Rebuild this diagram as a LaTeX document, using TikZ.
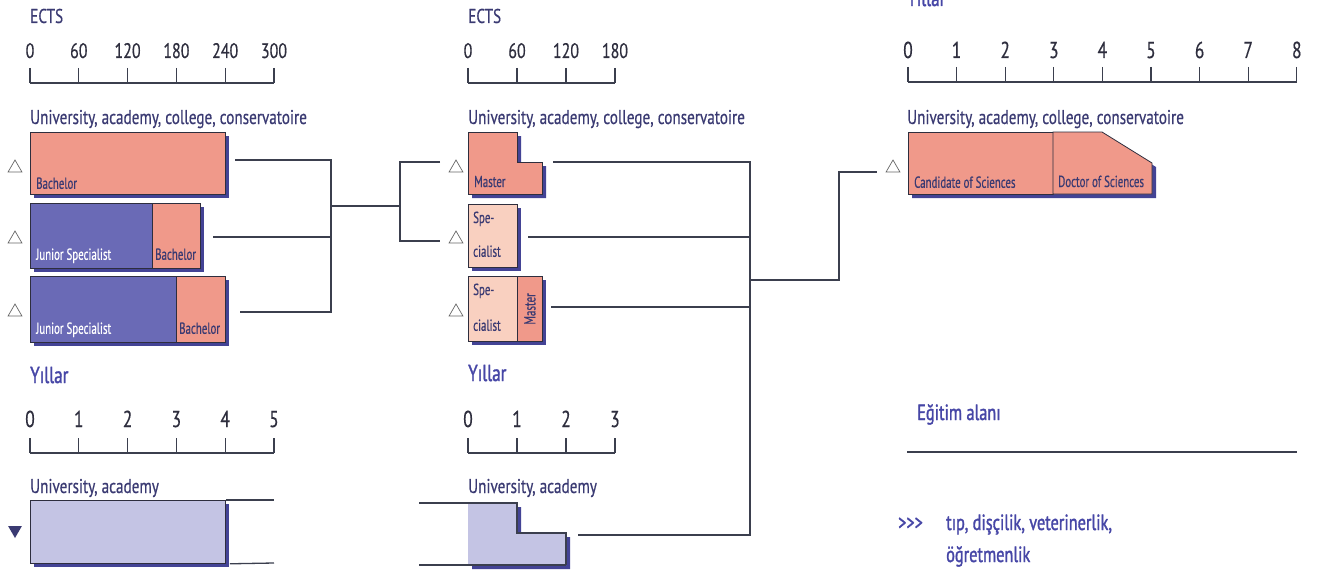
\documentclass[tikz,border=0pt]{standalone}
\usepackage{fontspec}
\setmainfont{PT Sans}[FakeStretch=0.76,FakeBold=0.5]
\newfontfamily\narrowfam{PT Sans}[FakeStretch=0.68,FakeBold=0.5]
\newfontfamily\semifam{PT Sans}[FakeStretch=0.74,FakeBold=1.4]
\usetikzlibrary{shadows,shapes.geometric}
\definecolor{salmon}{HTML}{F0998A}
\definecolor{jblue}{HTML}{6A6AB6}
\definecolor{lpink}{HTML}{F9D0C0}
\definecolor{lav}{HTML}{C4C4E4}
\definecolor{shad}{HTML}{2F2F8A}
\definecolor{navy}{HTML}{3A3A72}
\definecolor{tblue}{HTML}{4646A6}
\definecolor{linec}{HTML}{3B3F4E}
\definecolor{edgec}{HTML}{2E2E3E}
\newcommand\hfnt{\fontsize{20}{22}\selectfont}
\newcommand\nfnt{\fontsize{21}{23}\selectfont}
\newcommand\yfnt{\fontsize{23}{25}\selectfont}
\newcommand\ylfnt{\semifam\fontsize{23}{25}\selectfont}
\newcommand\bfnt{\narrowfam\fontsize{16}{18}\selectfont}
\newcommand\tfnt{\semifam\fontsize{22}{24}\selectfont}
\begin{document}
\begin{tikzpicture}[x=1pt,y=-1pt,
  conn/.style={draw=linec, line width=1.6pt},
  axisln/.style={draw=linec, line width=1.3pt},
  hd/.style={anchor=base west, inner sep=0pt, text=navy, font=\hfnt},
  yl/.style={anchor=base west, inner sep=0pt, text=tblue, font=\ylfnt},
  num/.style={anchor=base, inner sep=0pt, text=edgec, font=\nfnt},
  ynum/.style={anchor=base, inner sep=0pt, text=edgec, font=\yfnt},
  bx/.style={draw=edgec, line width=0.8pt, inner sep=0pt, anchor=north west,
    drop shadow={shadow xshift=4pt, shadow yshift=-4pt, fill=shad, opacity=0.9}},
  bl/.style={anchor=base west, inner sep=0pt, font=\bfnt},
  tri/.style={regular polygon, regular polygon sides=3, draw=gray!80!black, line width=0.7pt, minimum size=16pt, inner sep=0pt},
  ftri/.style={regular polygon, regular polygon sides=3, shape border rotate=180, fill=navy, minimum size=16pt, inner sep=0pt},
  shd/.style={fill=shad, opacity=0.9, shift={(4,4)}},
  edgeln/.style={draw=edgec, line width=0.8pt},
  bt/.style={anchor=base west, inner sep=0pt, font=\tfnt, text=tblue},
]
\useasboundingbox (0,0) rectangle (1323,578);

% ================= LEFT PANEL =================
\node[hd] (lects) at (30,23) {ECTS};
\draw[axisln] (30,83) -- (274,83);
\foreach \i/\l in {0/0,1/60,2/120,3/180,4/240,5/300} {
  \draw[axisln] (30+48.8*\i,68) -- (30+48.8*\i,83);
  \node[num] (lt\i) at (30+48.8*\i,58) {\l};
}
\node[hd] (luni) at (30,124) {University, academy, college, conservatoire};

\node[bx, fill=salmon, minimum width=195pt, minimum height=62pt] (lb1) at (30,132) {};
\node[bl, text=navy] (lb1l) at ([xshift=6pt,yshift=6pt]lb1.south west) {Bachelor};

\node[bx, fill=jblue, minimum width=122pt, minimum height=65pt] (lj2) at (30,203) {};
\node[bx, fill=salmon, minimum width=48pt, minimum height=65pt] (lb2) at (152,203) {};
\node[bl, text=white] (lj2l) at ([xshift=6pt,yshift=9pt]lj2.south west) {Junior Specialist};
\node[bl, text=navy] (lb2l) at ([xshift=3pt,yshift=9pt]lb2.south west) {Bachelor};

\node[bx, fill=jblue, minimum width=146pt, minimum height=66pt] (lj3) at (30,276) {};
\node[bx, fill=salmon, minimum width=49pt, minimum height=66pt] (lb3) at (176,276) {};
\node[bl, text=white] (lj3l) at ([xshift=6pt,yshift=9pt]lj3.south west) {Junior Specialist};
\node[bl, text=navy] (lb3l) at ([xshift=3pt,yshift=9pt]lb3.south west) {Bachelor};

\node[tri] (lt1) at (15,168) {};
\node[tri] (lt2) at (15,239) {};
\node[tri] (lt3) at (15,312) {};

% bracket
\coordinate (a1) at (235,160); \coordinate (a1e) at (331,160);
\coordinate (a2) at (213,237); \coordinate (a2e) at (331,237);
\coordinate (a3) at (240,312); \coordinate (a3e) at (331,312);
\coordinate (aj) at (331,206); \coordinate (bj) at (400,206);
\coordinate (b1) at (400,162); \coordinate (b1e) at (440,162);
\coordinate (b2) at (400,241); \coordinate (b2e) at (440,241);
\draw[conn] (a1) -- (a1e) -- (a3e) -- (a3);
\draw[conn] (a2) -- (a2e);
\draw[conn] (aj) -- (bj);
\draw[conn] (b1e) -- (b1) -- (b2) -- (b2e);

\node[yl] (lyil) at (30,383) {Yıllar};
\draw[axisln] (30,453) -- (274,453);
\foreach \i in {0,...,5} {
  \draw[axisln] (30+48.8*\i,438) -- (30+48.8*\i,453);
  \node[ynum] (ly\i) at (30+48.8*\i,427) {\i};
}
\node[hd] (luni2) at (30,493) {University, academy};
\node[bx, fill=lav, minimum width=195pt, minimum height=63pt] (lbox) at (30,500) {};
\coordinate (lc1) at (274,500); \coordinate (lc2) at (274,563);
\draw[conn, line width=1.3pt] (lbox.north east) -- (lc1);
\draw[conn, line width=1.3pt] ([xshift=4pt]lbox.south east) -- (lc2);
\node[ftri] (lft) at (15,530) {};

% ================= MIDDLE PANEL =================
\node[hd] (mects) at (468,23) {ECTS};
\draw[axisln] (468,83) -- (615,83);
\foreach \i/\l in {0/0,1/60,2/120,3/180} {
  \draw[axisln] (468+49*\i,68) -- (468+49*\i,83);
  \node[num] (mt\i) at (468+49*\i,58) {\l};
}
\node[hd] (muni) at (468,124) {University, academy, college, conservatoire};

% Master L-shape
\fill[shd] (468,132) -- (517,132) -- (517,162) -- (542,162) -- (542,194) -- (468,194) -- cycle;
\filldraw[fill=salmon, edgeln] (468,132) -- (517,132) -- (517,162) -- (542,162) -- (542,194) -- (468,194) -- cycle;
\coordinate (mm) at (468,194);
\node[bl, text=navy] (mml) at ([xshift=6pt,yshift=7pt]mm) {Master};

\node[bx, fill=lpink, minimum width=49pt, minimum height=63pt] (ms2) at (468,204) {};
\node[bl, text=navy] (ms2a) at ([xshift=5pt,yshift=-19pt]ms2.north west) {Spe-};
\node[bl, text=navy] (ms2b) at ([xshift=5pt,yshift=11pt]ms2.south west) {cialist};

\node[bx, fill=lpink, minimum width=49pt, minimum height=65pt] (ms3) at (468,276) {};
\node[bx, fill=salmon, minimum width=25pt, minimum height=65pt] (mm3) at (517,276) {};
\node[bl, text=navy] (ms3a) at ([xshift=5pt,yshift=-19pt]ms3.north west) {Spe-};
\node[bl, text=navy] (ms3b) at ([xshift=5pt,yshift=11pt]ms3.south west) {cialist};
\node[anchor=center, inner sep=0pt, font=\bfnt, text=navy, rotate=90] (mm3l) at (mm3.center) {Master};

\node[tri] (mt1) at (456,168) {};
\node[tri] (mt2) at (456,239) {};
\node[tri] (mt3) at (456,312) {};

\coordinate (c1) at (553,162); \coordinate (c1e) at (750,162);
\coordinate (c2) at (528,237); \coordinate (c2e) at (750,237);
\coordinate (c3) at (551,307); \coordinate (c3e) at (750,307);
\coordinate (c4) at (578,535); \coordinate (c4e) at (750,535);
\coordinate (cj) at (750,280); \coordinate (dj) at (839,280);
\coordinate (d1) at (839,172); \coordinate (d1e) at (877,172);
\draw[conn] (c1) -- (c1e) -- (c4e) -- (c4);
\draw[conn] (c2) -- (c2e);
\draw[conn] (c3) -- (c3e);
\draw[conn] (cj) -- (dj) -- (d1) -- (d1e);

\node[yl] (myil) at (468,381) {Yıllar};
\draw[axisln] (468,453) -- (615,453);
\foreach \i in {0,...,3} {
  \draw[axisln] (468+49*\i,438) -- (468+49*\i,453);
  \node[ynum] (my\i) at (468+49*\i,427) {\i};
}
\node[hd] (muni2) at (468,493) {University, academy};
\fill[shd] (468,503) -- (517,503) -- (517,533) -- (566,533) -- (566,565) -- (468,565) -- cycle;
\fill[lav] (468,503) -- (517,503) -- (517,533) -- (566,533) -- (566,565) -- (468,565) -- cycle;
\coordinate (e1) at (419,503); \coordinate (e2) at (419,565);
\coordinate (mstep) at (517,503); \coordinate (mend) at (566,565);
\draw[conn, line width=1.3pt] (e1) -- (mstep) -- (517,533) -- (566,533) -- (mend);
\draw[conn, line width=1.3pt] (e2) -- (mend);

% ================= RIGHT PANEL =================
\node[yl] (ryil) at (907,6) {Yıllar};
\draw[axisln] (908,82) -- (1296.8,82);
\foreach \i in {0,...,8} {
  \draw[axisln] (908+48.6*\i,67) -- (908+48.6*\i,82);
  \node[ynum] (ry\i) at (908+48.6*\i,58) {\i};
}
\node[hd] (runi) at (907,124) {University, academy, college, conservatoire};
\fill[shd] (908,132) -- (1102,132) -- (1152,163) -- (1152,194) -- (908,194) -- cycle;
\node[draw=edgec, line width=0.8pt, inner sep=0pt, anchor=north west, fill=salmon, minimum width=145pt, minimum height=62pt] (rc) at (908,132) {};
\filldraw[fill=salmon, edgeln] (1053,132) -- (1102,132) -- (1152,163) -- (1152,194) -- (1053,194) -- cycle;
\coordinate (rd) at (1053,194);
\node[bl, text=navy] (rcl) at ([xshift=6pt,yshift=7pt]rc.south west) {Candidate of Sciences};
\node[bl, text=navy] (rdl) at ([xshift=5pt,yshift=7pt]rd) {Doctor of Sciences};
\node[tri] (rt1) at (893,168) {};

\node[bt] (egit) at (917,420) {Eğitim alanı};
\coordinate (f1) at (907,452); \coordinate (f2) at (1297,452);
\draw[conn] (f1) -- (f2);

\node[bt] (arr) at (898,530) {>{}>{}>};
\node[bt] (tip1) at (946,530) {tıp, dişçilik, veterinerlik,};
\node[bt] (tip2) at (946,562) {öğretmenlik};
\end{tikzpicture}
\end{document}
